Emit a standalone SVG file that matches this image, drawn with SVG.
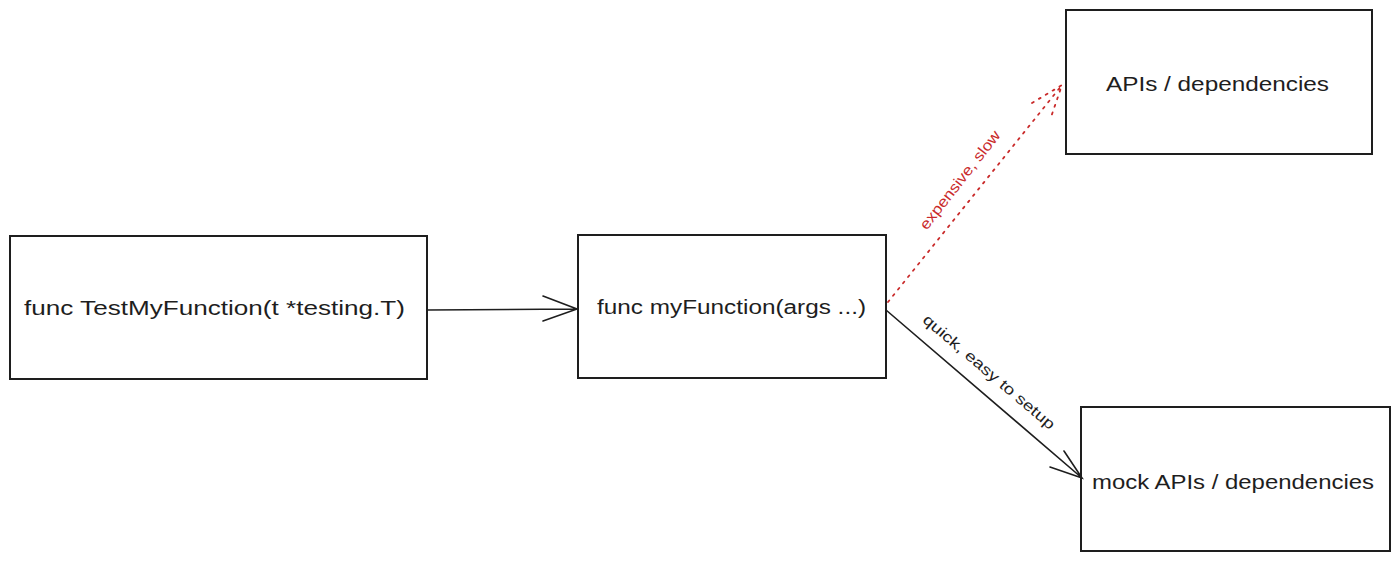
<svg xmlns="http://www.w3.org/2000/svg" width="1400" height="563" viewBox="0 0 1400 563">
<style>
.box{fill:#fff;stroke:#1e1e1e;stroke-width:2}
.t{font-family:"Liberation Sans",Arial,sans-serif;font-size:20px;fill:#1e1e1e}
.lbl{font-family:"Liberation Sans",Arial,sans-serif;font-size:15px}
.c{fill:none;stroke:#1e1e1e;stroke-width:1.6;stroke-linecap:round}
.red{fill:none;stroke:#c92a2a;stroke-width:1.8;stroke-dasharray:2 6;stroke-linecap:round}
</style>
<rect width="1400" height="563" fill="#fff"/>
<g id="node-test">
<rect class="box" x="10" y="236" width="417" height="143"/>
<text class="t" x="24" y="315" textLength="381" lengthAdjust="spacingAndGlyphs">func TestMyFunction(t *testing.T)</text>
</g>
<g id="node-myfunc">
<rect class="box" x="578" y="235" width="308" height="143"/>
<text class="t" x="597" y="314" textLength="269" lengthAdjust="spacingAndGlyphs">func myFunction(args ...)</text>
</g>
<g id="node-apis">
<rect class="box" x="1066" y="10" width="306" height="144"/>
<text class="t" x="1106" y="91" textLength="223" lengthAdjust="spacingAndGlyphs">APIs / dependencies</text>
</g>
<g id="node-mock">
<rect class="box" x="1081" y="407" width="309" height="144"/>
<text class="t" x="1092" y="489" textLength="282" lengthAdjust="spacingAndGlyphs">mock APIs / dependencies</text>
</g>
<g id="connectors">
<path class="c" d="M427 310 L577 309 M543 296 L577 309 L543 321"/>
<path class="red" d="M888 302 L1062 85 M1032 103 L1062 85 L1050 120"/>
<path class="c" d="M886 310 L1082 478 M1064 451 L1082 478 L1050 467"/>
<text class="lbl" fill="#c92a2a" transform="translate(960,180) rotate(-52)" text-anchor="middle" dy="5" textLength="121" lengthAdjust="spacingAndGlyphs">expensive, slow</text>
<text class="lbl" fill="#1e1e1e" transform="translate(989,372) rotate(40.4)" text-anchor="middle" dy="5" textLength="168" lengthAdjust="spacingAndGlyphs">quick, easy to setup</text>
</g>
</svg>
